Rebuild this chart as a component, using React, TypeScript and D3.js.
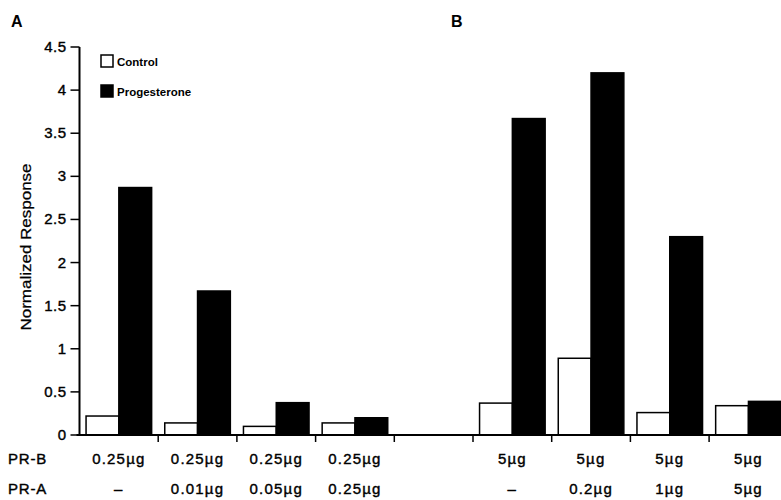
import React, { useEffect, useRef } from "react";
import * as d3 from "d3";

const slots = ["a1", "a2", "a3", "a4", "gap", "b1", "b2", "b3", "b4"];
const prB = ["0.25µg", "0.25µg", "0.25µg", "0.25µg", "", "5µg", "5µg", "5µg", "5µg"];
const prA = ["–", "0.01µg", "0.05µg", "0.25µg", "", "–", "0.2µg", "1µg", "5µg"];
const control = [0.22, 0.14, 0.1, 0.14, null, 0.37, 0.89, 0.26, 0.34];
const progesterone = [2.87, 1.67, 0.375, 0.2, null, 3.67, 4.2, 2.3, 0.39];
const series = ["Control", "Progesterone"];
const yTicks = [0, 0.5, 1, 1.5, 2, 2.5, 3, 3.5, 4, 4.5];

const font = "'Liberation Sans', Arial, sans-serif";

export default function App() {
  const ref = useRef<SVGSVGElement>(null);

  useEffect(() => {
    const width = 781;
    const height = 500;
    const left = 79.5;
    const bottom = 435;
    const top = 47;
    const step = 78.7;

    const x = d3.scaleBand()
      .domain(slots)
      .range([left, left + step * slots.length])
      .padding(0);

    const sub = d3.scaleBand()
      .domain(series)
      .range([0, x.bandwidth()])
      .paddingInner(0)
      .paddingOuter(0.2);

    const y = d3.scaleLinear().domain([0, 4.5]).range([bottom, top]);

    const svg = d3.select(ref.current)
      .attr("width", width)
      .attr("height", height);
    svg.selectAll("*").remove();

    // panel letters
    svg.append("text").attr("x", 11).attr("y", 27).text("A")
      .attr("font-family", font).attr("font-weight", "bold").attr("font-size", 16);
    svg.append("text").attr("x", 451).attr("y", 27).text("B")
      .attr("font-family", font).attr("font-weight", "bold").attr("font-size", 16);

    // y axis title
    svg.append("text")
      .attr("transform", "translate(31,247) rotate(-90)")
      .attr("text-anchor", "middle")
      .attr("font-family", font)
      .attr("font-size", 14)
      .attr("stroke", "#000")
      .attr("stroke-width", 0.25)
      .attr("textLength", 167)
      .attr("lengthAdjust", "spacingAndGlyphs")
      .text("Normalized Response");

    // bars
    const rows = slots.map((s, i) => ({ slot: s, vals: [control[i], progesterone[i]] }));
    const g = svg.append("g");
    rows.forEach((r) => {
      r.vals.forEach((v, j) => {
        if (v == null) return;
        g.append("rect")
          .attr("x", (x(r.slot) as number) + (sub(series[j]) as number))
          .attr("y", y(v))
          .attr("width", sub.bandwidth())
          .attr("height", bottom - y(v))
          .attr("fill", j === 0 ? "#fff" : "#000")
          .attr("stroke", "#000")
          .attr("stroke-width", 1.5);
      });
    });

    // y axis
    const ya = svg.append("g");
    ya.append("line").attr("x1", left).attr("x2", left).attr("y1", top).attr("y2", bottom)
      .attr("stroke", "#000").attr("stroke-width", 2);
    yTicks.forEach((t) => {
      ya.append("line").attr("x1", left - 9).attr("x2", left).attr("y1", y(t)).attr("y2", y(t))
        .attr("stroke", "#000").attr("stroke-width", 1.5);
      ya.append("text")
        .attr("x", left - 13)
        .attr("y", y(t) + 5)
        .attr("text-anchor", "end")
        .attr("font-family", font)
        .attr("font-size", 15)
        .attr("letter-spacing", 0.5)
        .attr("stroke", "#000")
        .attr("stroke-width", 0.4)
        .text(String(t));
    });

    // x axis
    const xa = svg.append("g");
    xa.append("line").attr("x1", left - 3).attr("x2", width).attr("y1", bottom).attr("y2", bottom)
      .attr("stroke", "#000").attr("stroke-width", 2);
    slots.forEach((s) => {
      const bx = (x(s) as number) + x.bandwidth();
      xa.append("line").attr("x1", bx).attr("x2", bx).attr("y1", bottom).attr("y2", bottom + 7)
        .attr("stroke", "#000").attr("stroke-width", 1.5);
    });

    // row labels
    const rowText = (label: string, vals: string[], yy: number) => {
      xa.append("text").attr("x", 8).attr("y", yy).text(label)
        .attr("font-family", font).attr("font-size", 15).attr("letter-spacing", 0.8)
        .attr("stroke", "#000").attr("stroke-width", 0.4);
      vals.forEach((v, i) => {
        if (!v) return;
        xa.append("text")
          .attr("x", (x(slots[i]) as number) + x.bandwidth() / 2)
          .attr("y", yy)
          .attr("text-anchor", "middle")
          .attr("font-family", font)
          .attr("font-size", 15)
          .attr("letter-spacing", 1.2)
          .attr("stroke", "#000")
          .attr("stroke-width", 0.4)
          .text(v);
      });
    };
    rowText("PR-B", prB, 464);
    rowText("PR-A", prA, 494);

    // legend
    const lg = svg.append("g");
    series.forEach((s, i) => {
      const ly = 55 + i * 30;
      lg.append("rect").attr("x", 101).attr("y", ly).attr("width", 12).attr("height", 12)
        .attr("fill", i === 0 ? "#fff" : "#000").attr("stroke", "#000").attr("stroke-width", 1.5);
      lg.append("text").attr("x", 117).attr("y", ly + 11).text(s)
        .attr("font-family", font).attr("font-weight", "bold").attr("font-size", 11.5);
    });
  }, []);

  return (
    <svg ref={ref} style={{ position: "absolute", left: 0, top: 0, background: "#fff" }} />
  );
}
